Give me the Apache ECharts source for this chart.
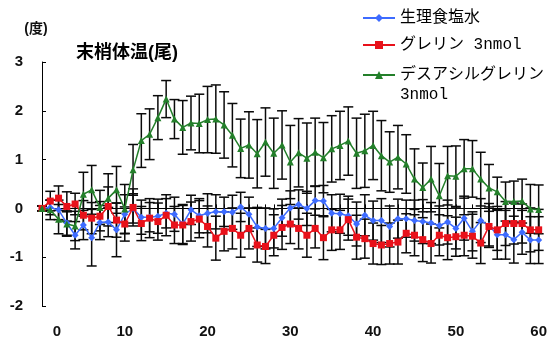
<!DOCTYPE html>
<html>
<head>
<meta charset="utf-8">
<script src="https://cdn.jsdelivr.net/npm/echarts@6/dist/echarts.min.js"></script>
<style>
  html, body { margin: 0; padding: 0; background: #fff; }
  #chart { width: 550px; height: 340px; }
</style>
</head>
<body>
<div id="chart"></div>
<script>
// Time after injection (minutes)
const minutes = [0,1,2,3,4,5,6,7,8,9,10,11,12,13,14,15,16,17,18,19,20,
  21,22,23,24,25,26,27,28,29,30,31,32,33,34,35,36,37,38,39,40,
  41,42,43,44,45,46,47,48,49,50,51,52,53,54,55,56,57,58,59,60];

// Tail temperature change (degrees) — saline
const salineMean = [0,0.02,-0.03,-0.3,-0.55,-0.34,-0.6,-0.29,-0.28,-0.44,-0.12,
  0.0,-0.18,-0.18,-0.16,-0.1,-0.12,-0.32,-0.03,-0.15,-0.1,
  -0.07,-0.07,-0.08,0.03,-0.12,-0.38,-0.41,-0.41,-0.19,0.01,
  0.08,0.0,0.16,0.15,-0.1,-0.11,-0.15,-0.32,-0.14,-0.25,
  -0.25,-0.37,-0.21,-0.21,-0.25,-0.27,-0.3,-0.35,-0.28,-0.41,
  -0.2,-0.47,-0.25,-0.35,-0.54,-0.54,-0.64,-0.49,-0.65,-0.65];
const salineErr = [0.05,0.15,0.2,0.25,0.28,0.3,0.58,0.35,0.3,0.55,0.4,
  0.3,0.35,0.3,0.35,0.3,0.35,0.4,0.3,0.35,0.4,
  0.35,0.3,0.35,0.3,0.35,0.4,0.42,0.4,0.38,0.35,
  0.3,0.35,0.3,0.32,0.38,0.4,0.4,0.45,0.42,0.4,
  0.45,0.42,0.4,0.38,0.42,0.45,0.42,0.4,0.45,0.42,
  0.45,0.4,0.45,0.45,0.5,0.5,0.48,0.45,0.48,0.48];

// Ghrelin 3 nmol
const ghrelinMean = [0,0.15,0.21,0.04,0.09,-0.14,-0.2,-0.16,0.04,-0.24,-0.32,
  0.02,-0.31,-0.2,-0.27,-0.14,-0.34,-0.34,-0.27,-0.22,-0.37,
  -0.61,-0.47,-0.41,-0.55,-0.41,-0.75,-0.78,-0.55,-0.39,-0.32,
  -0.41,-0.55,-0.41,-0.6,-0.44,-0.44,-0.23,-0.59,-0.62,-0.72,
  -0.75,-0.72,-0.69,-0.51,-0.55,-0.64,-0.72,-0.55,-0.6,-0.58,
  -0.55,-0.57,-0.71,-0.37,-0.44,-0.31,-0.31,-0.31,-0.44,-0.44];
const ghrelinErr = [0.05,0.2,0.25,0.3,0.22,0.3,0.32,0.3,0.4,0.35,0.35,
  0.38,0.35,0.4,0.38,0.42,0.38,0.4,0.4,0.38,0.42,
  0.45,0.4,0.42,0.45,0.42,0.35,0.35,0.42,0.45,0.4,
  0.42,0.45,0.4,0.45,0.42,0.4,0.42,0.45,0.4,0.42,
  0.4,0.42,0.45,0.4,0.42,0.45,0.4,0.42,0.45,0.4,
  0.42,0.45,0.42,0.4,0.42,0.45,0.42,0.4,0.45,0.42];

// Des-acyl ghrelin 3 nmol
const desacylMean = [0,-0.03,-0.22,-0.32,-0.36,0.29,0.38,0.02,0.21,0.38,-0.01,
  0.79,1.39,1.52,1.86,2.24,1.83,1.66,1.75,1.74,1.82,
  1.83,1.71,1.5,1.23,1.3,1.12,1.36,1.13,1.3,0.95,
  1.14,1.03,1.15,1.04,1.22,1.29,1.38,1.13,1.18,1.29,
  1.08,0.95,1.05,0.91,0.6,0.43,0.6,0.26,0.67,0.66,
  0.81,0.81,0.6,0.42,0.34,0.14,0.14,0.15,-0.01,-0.02];
const desacylErr = [0.05,0.2,0.3,0.25,0.3,0.45,0.5,0.35,0.5,0.48,0.5,
  0.52,0.55,0.52,0.45,0.38,0.4,0.55,0.55,0.6,0.68,
  0.7,0.68,0.65,0.6,0.68,0.7,0.7,0.72,0.7,0.75,
  0.7,0.72,0.7,0.72,0.68,0.7,0.7,0.72,0.75,0.7,
  0.72,0.62,0.65,0.6,0.62,0.5,0.67,0.66,0.6,0.62,
  0.6,0.58,0.55,0.48,0.3,0.4,0.42,0.45,0.5,0.5];

const xTickLabels = [0, 10, 20, 30, 40, 50, 60];
const yTickLabels = [-2, -1, 0, 1, 2, 3];

const NAME_SALINE = '生理食塩水';
const NAME_GHRELIN = 'グレリン 3nmol';
const NAME_DESACYL = 'デスアシルグレリン\n3nmol';

const latinFont = "'Liberation Sans', 'Noto Sans CJK JP', sans-serif";
const legendFont = "'Liberation Mono', 'Noto Sans CJK JP', monospace";

function pairs(values) {
  return minutes.map((m, i) => [m, values[i]]);
}
function triples(values, errs) {
  return minutes.map((m, i) => [m, values[i], errs[i]]);
}

// Vertical mean ± error bar with caps
function renderErrorBar(params, api) {
  const x = api.value(0);
  const y = api.value(1);
  const e = api.value(2);
  const hi = api.coord([x, y + e]);
  const lo = api.coord([x, y - e]);
  const w = 5;
  const style = { stroke: '#0a0a0a', lineWidth: 1.5 };
  return {
    type: 'group',
    children: [
      { type: 'line', shape: { x1: hi[0], y1: hi[1], x2: lo[0], y2: lo[1] }, style },
      { type: 'line', shape: { x1: hi[0] - w, y1: hi[1], x2: hi[0] + w, y2: hi[1] }, style },
      { type: 'line', shape: { x1: lo[0] - w, y1: lo[1], x2: lo[0] + w, y2: lo[1] }, style }
    ]
  };
}

function errorSeries(id, values, errs) {
  return {
    id: id,
    type: 'custom',
    xAxisIndex: 0,
    yAxisIndex: 0,
    renderItem: renderErrorBar,
    encode: { x: 0, y: 1 },
    data: triples(values, errs),
    z: 1,
    silent: true
  };
}

function lineSeries(name, values, color, symbol, size) {
  return {
    name: name,
    type: 'line',
    xAxisIndex: 0,
    yAxisIndex: 0,
    data: pairs(values),
    symbol: symbol,
    symbolSize: size,
    showAllSymbol: true,
    lineStyle: { color: color, width: 1.5 },
    itemStyle: { color: color },
    z: 3
  };
}

const legendText = { fontSize: 16, lineHeight: 20, fontFamily: legendFont, color: '#000' };

const chart = echarts.init(document.getElementById('chart'), null, { renderer: 'canvas' });
chart.setOption({
  animation: false,
  backgroundColor: '#fff',
  title: {
    text: '末梢体温(尾)',
    left: 76,
    top: 44,
    padding: 0,
    textStyle: { fontSize: 18, fontWeight: 'bold', fontFamily: latinFont, color: '#000' }
  },
  legend: [
    {
      data: [NAME_SALINE, NAME_GHRELIN],
      orient: 'vertical',
      left: 362,
      top: 8,
      padding: 0,
      itemWidth: 32,
      itemHeight: 10,
      itemGap: 7,
      textStyle: legendText
    },
    {
      // two-line entry: a blank leading line keeps the first line level with the icon
      data: [NAME_DESACYL],
      orient: 'vertical',
      left: 362,
      top: 45,
      padding: 0,
      itemWidth: 32,
      itemHeight: 10,
      formatter: name => ' \n' + name,
      textStyle: legendText
    }
  ],
  grid: { left: 42, right: 8, top: 62, bottom: 34, containLabel: false },
  xAxis: [
    {
      // axis line crossing at zero, one tick per minute
      type: 'value',
      min: 0,
      max: 60,
      interval: 1,
      position: 'bottom',
      axisLine: { show: true, onZero: true, lineStyle: { color: '#000', width: 1 } },
      axisTick: { show: true, inside: true, length: 4, lineStyle: { color: '#000' } },
      axisLabel: { show: false },
      splitLine: { show: false }
    },
    {
      // tick labels along the bottom edge
      type: 'value',
      min: 0,
      max: 60,
      interval: 10,
      position: 'bottom',
      axisLine: { show: false, onZero: false },
      axisTick: { show: false },
      splitLine: { show: false },
      axisLabel: {
        margin: 18,
        fontSize: 15,
        fontWeight: 'bold',
        fontFamily: latinFont,
        color: '#111',
        formatter: v => (v === xTickLabels[0] ? '{z|' + v + '}' : String(v)),
        rich: {
          z: { padding: [0, 0, 0, 30], fontSize: 15, fontWeight: 'bold', fontFamily: latinFont, color: '#111' }
        }
      }
    }
  ],
  yAxis: {
    type: 'value',
    min: yTickLabels[0],
    max: yTickLabels[yTickLabels.length - 1],
    interval: 1,
    name: '(度)',
    nameLocation: 'end',
    nameGap: 26,
    nameTextStyle: { fontSize: 14, fontWeight: 'bold', fontFamily: latinFont, color: '#111', padding: [0, 12, 0, 0] },
    axisLine: { show: true, onZero: false, lineStyle: { color: '#000', width: 1 } },
    axisTick: { show: true, inside: true, length: 4, lineStyle: { color: '#000' } },
    axisLabel: { margin: 19, fontSize: 15, fontWeight: 'bold', fontFamily: latinFont, color: '#111' },
    splitLine: { show: false }
  },
  series: [
    errorSeries('err-saline', salineMean, salineErr),
    errorSeries('err-ghrelin', ghrelinMean, ghrelinErr),
    errorSeries('err-desacyl', desacylMean, desacylErr),
    lineSeries(NAME_SALINE, salineMean, '#3d6bff', 'diamond', 7),
    lineSeries(NAME_GHRELIN, ghrelinMean, '#e8111a', 'rect', 7),
    lineSeries(NAME_DESACYL, desacylMean, '#237f2a', 'triangle', 7)
  ]
});
</script>
</body>
</html>
